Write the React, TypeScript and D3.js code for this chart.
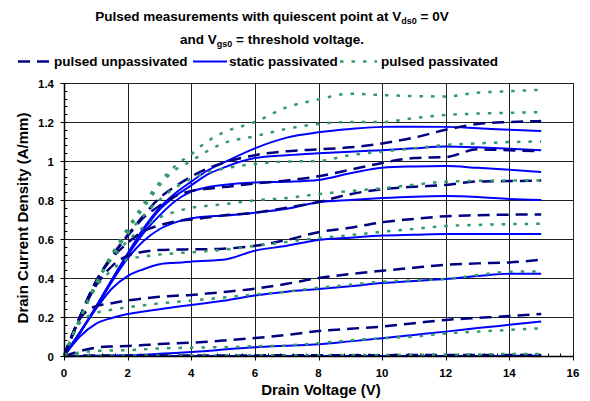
import React from "react";
import * as d3 from "d3";

// drain voltage grid shared by every curve (V)
const vds = [0, 0.5, 1, 1.5, 2, 2.5, 3, 3.5, 4, 4.5, 5, 6, 7, 8, 9, 10, 11, 12, 13, 14, 15];

// drain current density (A/mm), one row per gate step
const pulsedUnpassivated = [
    [0, 0.2, 0.38, 0.51, 0.62, 0.72, 0.81, 0.87, 0.92, 0.96, 0.99, 1.03, 1.05, 1.06, 1.07, 1.09, 1.12, 1.16, 1.19, 1.2, 1.205],
    [0, 0.2, 0.38, 0.51, 0.615, 0.71, 0.77, 0.82, 0.846, 0.858, 0.866, 0.885, 0.9, 0.922, 0.955, 0.99, 1.015, 1.02, 1.06, 1.055, 1.05],
    [0, 0.2, 0.38, 0.5, 0.58, 0.64, 0.67, 0.69, 0.7, 0.71, 0.72, 0.735, 0.76, 0.79, 0.83, 0.855, 0.868, 0.877, 0.895, 0.897, 0.9],
    [0, 0.2, 0.36, 0.46, 0.515, 0.535, 0.544, 0.546, 0.547, 0.548, 0.55, 0.565, 0.595, 0.635, 0.658, 0.686, 0.703, 0.717, 0.722, 0.725, 0.726],
    [0, 0.19, 0.255, 0.27, 0.285, 0.295, 0.304, 0.309, 0.313, 0.32, 0.328, 0.345, 0.37, 0.4, 0.42, 0.437, 0.453, 0.468, 0.475, 0.48, 0.494],
    [0, 0.025, 0.043, 0.049, 0.051, 0.056, 0.061, 0.065, 0.068, 0.073, 0.079, 0.092, 0.108, 0.128, 0.14, 0.151, 0.168, 0.185, 0.195, 0.205, 0.216],
    [0, 0.002, 0.002, 0.002, 0.002, 0.002, 0.003, 0.003, 0.003, 0.003, 0.003, 0.003, 0.004, 0.004, 0.004, 0.004, 0.005, 0.005, 0.005, 0.005, 0.005]
];

const staticPassivated = [
    [0, 0.12, 0.25, 0.39, 0.525, 0.655, 0.76, 0.835, 0.894, 0.95, 0.99, 1.065, 1.12, 1.147, 1.164, 1.175, 1.176, 1.175, 1.168, 1.16, 1.154],
    [0, 0.12, 0.25, 0.39, 0.52, 0.645, 0.75, 0.82, 0.875, 0.93, 0.965, 1.015, 1.03, 1.04, 1.048, 1.055, 1.065, 1.074, 1.07, 1.063, 1.055],
    [0, 0.12, 0.25, 0.385, 0.515, 0.63, 0.72, 0.795, 0.843, 0.865, 0.877, 0.89, 0.894, 0.903, 0.937, 0.966, 0.972, 0.974, 0.965, 0.955, 0.943],
    [0, 0.12, 0.245, 0.38, 0.5, 0.59, 0.65, 0.685, 0.706, 0.715, 0.72, 0.735, 0.755, 0.788, 0.8, 0.81, 0.817, 0.82, 0.815, 0.805, 0.8],
    [0, 0.12, 0.24, 0.345, 0.41, 0.445, 0.47, 0.478, 0.484, 0.489, 0.493, 0.54, 0.565, 0.595, 0.607, 0.618, 0.622, 0.626, 0.626, 0.626, 0.626],
    [0, 0.1, 0.165, 0.195, 0.215, 0.228, 0.24, 0.251, 0.262, 0.272, 0.283, 0.31, 0.33, 0.343, 0.358, 0.374, 0.385, 0.395, 0.41, 0.422, 0.422],
    [0, 0, 0.001, 0.002, 0.004, 0.007, 0.011, 0.015, 0.02, 0.026, 0.033, 0.045, 0.053, 0.06, 0.075, 0.091, 0.108, 0.125, 0.143, 0.16, 0.177],
    [0, 0, 0, 0, 0, 0, 0, 0, 0, 0, 0, 0, 0, 0, 0, 0, 0, 0, 0, 0.001, 0.001]
];

const pulsedPassivated = [
    [0, 0.19, 0.37, 0.52, 0.655, 0.78, 0.89, 0.975, 1.035, 1.1, 1.145, 1.2, 1.275, 1.316, 1.345, 1.338, 1.333, 1.331, 1.35, 1.358, 1.365],
    [0, 0.19, 0.37, 0.52, 0.645, 0.76, 0.875, 0.955, 1.0, 1.05, 1.09, 1.127, 1.165, 1.19, 1.2, 1.2, 1.22, 1.236, 1.243, 1.247, 1.25],
    [0, 0.19, 0.37, 0.51, 0.625, 0.72, 0.8, 0.865, 0.91, 0.94, 0.96, 0.985, 0.997, 1.0, 1.03, 1.048, 1.065, 1.082, 1.09, 1.097, 1.1],
    [0, 0.19, 0.365, 0.5, 0.59, 0.66, 0.71, 0.74, 0.76, 0.77, 0.778, 0.798, 0.81, 0.83, 0.846, 0.86, 0.878, 0.894, 0.898, 0.9, 0.9],
    [0, 0.19, 0.35, 0.44, 0.496, 0.51, 0.52, 0.527, 0.532, 0.538, 0.545, 0.565, 0.585, 0.605, 0.62, 0.637, 0.652, 0.667, 0.672, 0.676, 0.678],
    [0, 0.17, 0.22, 0.237, 0.25, 0.26, 0.27, 0.277, 0.284, 0.292, 0.3, 0.315, 0.33, 0.35, 0.365, 0.381, 0.388, 0.395, 0.415, 0.432, 0.434],
    [0, 0.018, 0.026, 0.028, 0.03, 0.034, 0.039, 0.041, 0.043, 0.044, 0.045, 0.05, 0.054, 0.066, 0.08, 0.091, 0.1, 0.116, 0.125, 0.134, 0.142],
    [0, 0.002, 0.002, 0.002, 0.002, 0.002, 0.003, 0.003, 0.003, 0.003, 0.003, 0.004, 0.004, 0.004, 0.005, 0.005, 0.006, 0.006, 0.008, 0.01, 0.01]
];

const xTicks = [0, 2, 4, 6, 8, 10, 12, 14, 16];
const yTicks = [0, 0.2, 0.4, 0.6, 0.8, 1, 1.2, 1.4];
const legendLabels = ["pulsed unpassivated", "static passivated", "pulsed passivated"];

const font = "'Liberation Sans', Arial, sans-serif";

const x = d3.scaleLinear().domain([0, 16]).range([64, 573]);
const y = d3.scaleLinear().domain([0, 1.4]).range([356, 83]);

const line = d3
    .line<number>()
    .x((_, i) => x(vds[i]))
    .y(d => y(d))
    .curve(d3.curveMonotoneX);

const styles = {
    dashed: { stroke: "#000080", width: 2.5, dash: "12,7" },
    solid: { stroke: "#0000ff", width: 2, dash: "none" },
    dotted: { stroke: "#339966", width: 2.5, dash: "3.5,8" }
};

const crisp = (v: number) => Math.round(v) + 0.5;

const App = () => {
    const minorY = d3.range(0, 1.4001, 0.04);
    const minorX = d3.range(0, 16.001, 0.4);

    const curves = (rows: number[][], st: { stroke: string; width: number; dash: string }, key: string) =>
        rows.map((row, i) => (
            <path
                key={`${key}${i}`}
                d={line(row) || ""}
                fill="none"
                stroke={st.stroke}
                strokeWidth={st.width}
                strokeDasharray={st.dash}
            />
        ));

    const legend = [
        { st: styles.dashed, x1: 18, x2: 53, tx: 54 },
        { st: styles.solid, x1: 193, x2: 227, tx: 229 },
        { st: styles.dotted, x1: 340, x2: 377, tx: 381 }
    ];

    return (
        <svg
            width={590}
            height={401}
            style={{ position: "absolute", left: 0, top: 0, background: "#fff" }}
            fontFamily={font}
            fontWeight="bold"
        >
            {/* title */}
            <text x={272} y={21} fontSize={13.5} textAnchor="middle">
                Pulsed measurements with quiescent point at V
                <tspan fontSize={9} dy={3}>ds0</tspan>
                <tspan dy={-3}> = 0V</tspan>
            </text>
            <text x={272} y={44} fontSize={13.5} textAnchor="middle">
                and V
                <tspan fontSize={9} dy={3}>gs0</tspan>
                <tspan dy={-3}> = threshold voltage.</tspan>
            </text>

            {/* legend */}
            {legend.map((l, i) => (
                <g key={i}>
                    <line
                        x1={l.x1}
                        x2={l.x2}
                        y1={61.5}
                        y2={61.5}
                        stroke={l.st.stroke}
                        strokeWidth={l.st.width}
                        strokeDasharray={l.st.dash}
                    />
                    <text x={l.tx} y={66} fontSize={13.5}>
                        {legendLabels[i]}
                    </text>
                </g>
            ))}

            {/* grid */}
            {xTicks.map(t => (
                <line key={`gx${t}`} x1={crisp(x(t))} x2={crisp(x(t))} y1={y(1.4)} y2={y(0)} stroke="#222" strokeWidth={1} />
            ))}
            {yTicks.map(t => (
                <line key={`gy${t}`} x1={x(0)} x2={x(16)} y1={crisp(y(t))} y2={crisp(y(t))} stroke="#222" strokeWidth={1} />
            ))}

            {/* minor ticks, inside */}
            {minorY.map((t, i) => (
                <line key={`my${i}`} x1={crisp(x(0))} x2={crisp(x(0)) + 3} y1={crisp(y(t))} y2={crisp(y(t))} stroke="#000" strokeWidth={1} />
            ))}
            {minorX.map((t, i) => (
                <line key={`mx${i}`} x1={crisp(x(t))} x2={crisp(x(t))} y1={crisp(y(0))} y2={crisp(y(0)) - 3} stroke="#000" strokeWidth={1} />
            ))}

            {/* curves */}
            {curves(staticPassivated, styles.solid, "s")}
            {curves(pulsedUnpassivated, styles.dashed, "d")}
            {curves(pulsedPassivated, styles.dotted, "g")}

            {/* axes */}
            <line x1={crisp(x(0))} x2={crisp(x(0))} y1={y(1.4)} y2={crisp(y(0))} stroke="#000" strokeWidth={1.5} />
            <line x1={x(0)} x2={x(16)} y1={crisp(y(0))} y2={crisp(y(0))} stroke="#000" strokeWidth={1.5} />
            {yTicks.map(t => (
                <g key={`ty${t}`}>
                    <line x1={crisp(x(0)) - 4} x2={crisp(x(0))} y1={crisp(y(t))} y2={crisp(y(t))} stroke="#000" />
                    <text x={54} y={y(t) + 5} fontSize={11.5} textAnchor="end">
                        {String(t)}
                    </text>
                </g>
            ))}
            {xTicks.map(t => (
                <g key={`tx${t}`}>
                    <line x1={crisp(x(t))} x2={crisp(x(t))} y1={crisp(y(0))} y2={crisp(y(0)) + 4} stroke="#000" />
                    <text x={x(t)} y={377} fontSize={11.5} textAnchor="middle">
                        {t}
                    </text>
                </g>
            ))}

            {/* axis titles */}
            <text x={321} y={395} fontSize={15} textAnchor="middle">
                Drain Voltage (V)
            </text>
            <text transform="translate(28,218) rotate(-90)" fontSize={15} textAnchor="middle">
                Drain Current Density (A/mm)
            </text>
        </svg>
    );
};

export default App;
